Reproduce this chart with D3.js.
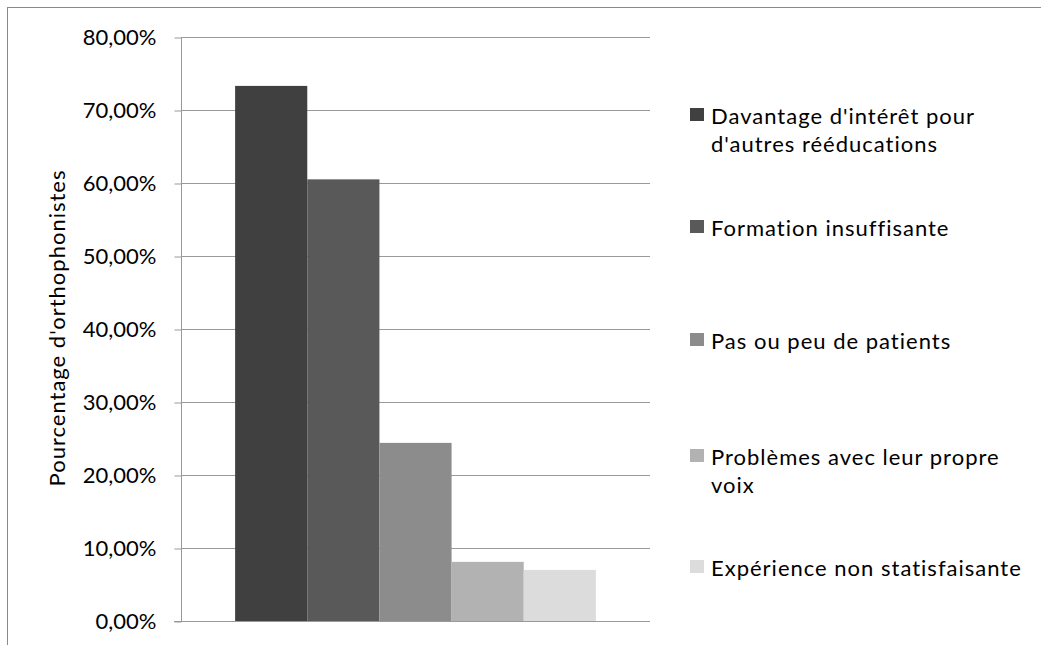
<!DOCTYPE html>
<html>
<head>
<meta charset="utf-8">
<script src="https://cdn.jsdelivr.net/npm/d3@7"></script>
<style>
  html, body { margin: 0; padding: 0; background: #fff; }
  svg { display: block; }
  text { font-family: Lato, "Open Sans", sans-serif; fill: #000; }
</style>
</head>
<body>
<svg id="chart" width="1041" height="645"></svg>
<script>
// ---- data ----
const series = [
  "Davantage d'intérêt pour d'autres rééducations",
  "Formation insuffisante",
  "Pas ou peu de patients",
  "Problèmes avec leur propre voix",
  "Expérience non statisfaisante"
];
const values = [0.733, 0.605, 0.244, 0.081, 0.070];
const legendLines = [
  ["Davantage d'intérêt pour", "d'autres rééducations"],
  ["Formation insuffisante"],
  ["Pas ou peu de patients"],
  ["Problèmes avec leur propre", "voix"],
  ["Expérience non statisfaisante"]
];
const yTicks = [0, 0.1, 0.2, 0.3, 0.4, 0.5, 0.6, 0.7, 0.8];
const yTitle = "Pourcentage d'orthophonistes";

// ---- styles / layout ----
const colors = ["#404040", "#595959", "#8c8c8c", "#b2b2b2", "#dcdcdc"];
const fontSize = 22;
const plot = { left: 181, right: 650, top: 37, bottom: 621 };

const svg = d3.select("#chart");

// outer chart border (extends beyond viewport at right/bottom)
svg.append("rect")
  .attr("x", 7.5).attr("y", 7.5)
  .attr("width", 1100).attr("height", 700)
  .attr("fill", "none").attr("stroke", "#8a8a8a").attr("stroke-width", 1);

const y = d3.scaleLinear().domain([0, 0.8]).range([plot.bottom, plot.top]);
const x = d3.scaleBand().domain(series).range([plot.left, plot.right])
  .paddingInner(0).paddingOuter(0.75);

// gridlines
svg.append("g").selectAll("line").data(yTicks.filter(d => d > 0)).join("line")
  .attr("x1", plot.left).attr("x2", plot.right)
  .attr("y1", d => Math.round(y(d)) + 0.5).attr("y2", d => Math.round(y(d)) + 0.5)
  .attr("stroke", "#999").attr("stroke-width", 1);

// y axis
const fmt = d => d3.format(".2f")(d * 100).replace(".", ",") + "%";
const yAxis = d3.axisLeft(y).tickValues(yTicks).tickFormat(fmt).tickSize(7).tickPadding(18);
const gy = svg.append("g").attr("transform", `translate(${plot.left + 0.5},0.5)`).call(yAxis);
gy.select(".domain").attr("stroke", "#999").attr("d", `M0,${plot.top}V${plot.bottom}`);
gy.selectAll(".tick line").attr("stroke", "#999");
gy.selectAll(".tick text")
  .attr("font-size", fontSize).attr("font-family", "Lato, sans-serif").attr("fill", "#000");

// bars
svg.append("g").selectAll("rect").data(values).join("rect")
  .attr("x", (d, i) => x(series[i]))
  .attr("width", x.bandwidth())
  .attr("y", d => y(d))
  .attr("height", d => y(0) - y(d))
  .attr("fill", (d, i) => colors[i]);

// x axis line
svg.append("line")
  .attr("x1", plot.left - 7).attr("x2", plot.right)
  .attr("y1", Math.round(y(0)) + 0.5).attr("y2", Math.round(y(0)) + 0.5)
  .attr("stroke", "#999");

// y axis title
svg.append("text")
  .attr("transform", `translate(56, ${(plot.top + plot.bottom) / 2 - 1}) rotate(-90)`)
  .attr("text-anchor", "middle").attr("dominant-baseline", "central")
  .attr("font-size", fontSize).attr("letter-spacing", 1)
  .text(yTitle);

// legend
const legendCenters = [129, 227, 340, 470, 567];
const lineH = 28;
const lg = svg.append("g");
legendLines.forEach((lines, i) => {
  const cy = legendCenters[i];
  const top = cy - (lines.length - 1) * lineH / 2;
  lg.append("rect")
    .attr("x", 690).attr("y", top - 7)
    .attr("width", 14).attr("height", 13)
    .attr("fill", colors[i]);
  const t = lg.append("text")
    .attr("x", 711).attr("font-size", fontSize).attr("letter-spacing", 1);
  lines.forEach((ln, j) => {
    t.append("tspan").attr("x", 711).attr("y", top + j * lineH)
      .attr("dominant-baseline", "central").text(ln);
  });
});
</script>
</body>
</html>
